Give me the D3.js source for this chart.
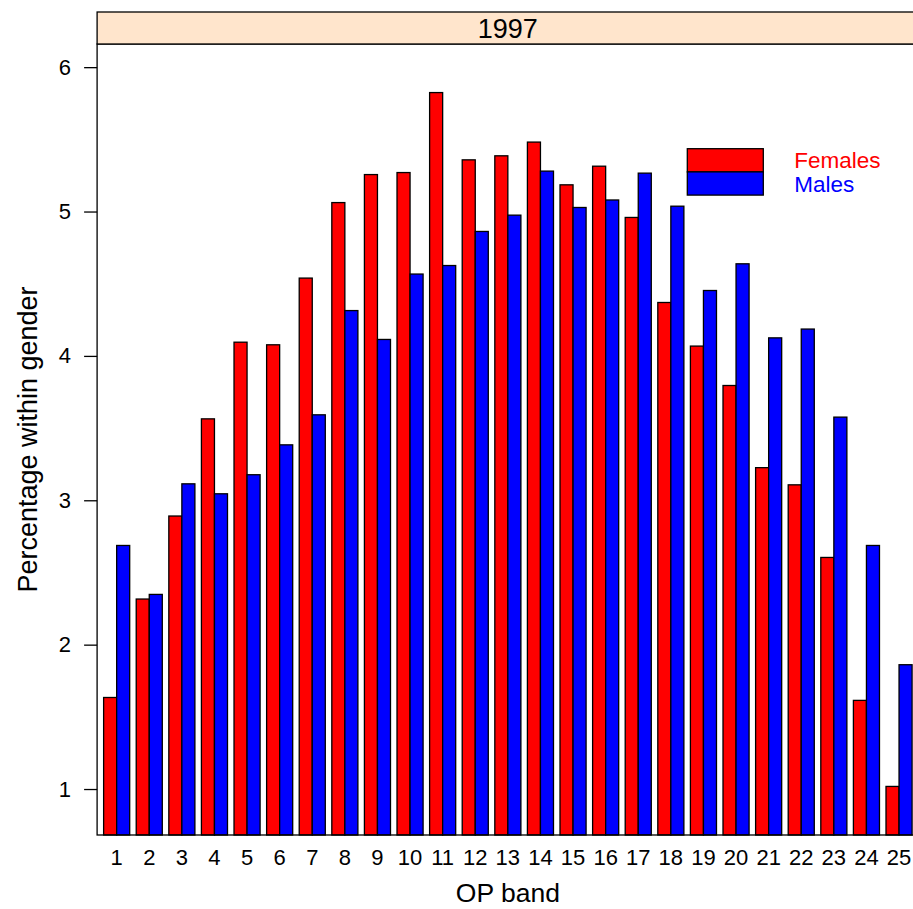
<!DOCTYPE html>
<html>
<head>
<meta charset="utf-8">
<script src="https://cdn.jsdelivr.net/npm/d3@7"></script>
<style>
  html, body { margin: 0; padding: 0; background: #fff; }
  svg { display: block; font-family: "Liberation Sans", Arial, Helvetica, sans-serif; }
</style>
</head>
<body>
<svg id="chart" width="913" height="909"></svg>
<script>
const categories = ["1","2","3","4","5","6","7","8","9","10","11","12","13","14","15","16","17","18","19","20","21","22","23","24","25"];
const females = [1.634, 2.316, 2.891, 3.564, 4.095, 4.077, 4.539, 5.062, 5.256, 5.270, 5.824, 5.358, 5.386, 5.481, 5.185, 5.314, 4.959, 4.370, 4.068, 3.795, 3.226, 3.107, 2.604, 1.614, 1.018];
const males   = [2.687, 2.348, 3.114, 3.045, 3.177, 3.384, 3.592, 4.314, 4.114, 4.567, 4.626, 4.862, 4.975, 5.280, 5.028, 5.080, 5.266, 5.037, 4.453, 4.638, 4.125, 4.186, 3.576, 2.687, 1.861];
const groups = ["Females", "Males"];
const groupColors = ["#FF0000", "#0000FF"];
const yTicks = [1, 2, 3, 4, 5, 6];
const stripLabel = "1997";
const xLabel = "OP band";
const yLabel = "Percentage within gender";

const svg = d3.select("#chart");
const panel = { left: 97.1, right: 918.6, top: 44, bottom: 835 };
const strip = { top: 12, bottom: 44 };

const all = females.concat(males);
const lo = d3.min(all), hi = d3.max(all);
const pad = (hi - lo) * 0.07;

const x = d3.scaleBand().domain(categories)
  .range([panel.left, panel.right]).paddingInner(0.2).paddingOuter(0.2);
const xSub = d3.scaleBand().domain(groups).range([0, x.bandwidth()]);
const y = d3.scaleLinear().domain([lo - pad, hi + pad]).range([panel.bottom, panel.top]);
const color = d3.scaleOrdinal().domain(groups).range(groupColors);

const data = categories.map((c, i) => ({ cat: c, values: [{ g: "Females", v: females[i] }, { g: "Males", v: males[i] }] }));

// Bars
const g = svg.append("g");
g.selectAll("g.cat").data(data).join("g")
  .attr("transform", d => `translate(${x(d.cat)},0)`)
  .selectAll("rect").data(d => d.values).join("rect")
  .attr("x", d => xSub(d.g))
  .attr("width", xSub.bandwidth())
  .attr("y", d => y(d.v))
  .attr("height", d => panel.bottom - y(d.v))
  .attr("fill", d => color(d.g))
  .attr("stroke", "#000")
  .attr("stroke-width", 1.3);

// Panel border
svg.append("rect")
  .attr("x", panel.left).attr("y", panel.top)
  .attr("width", panel.right - panel.left).attr("height", panel.bottom - panel.top)
  .attr("fill", "none").attr("stroke", "#000").attr("stroke-width", 1.3);

// Strip
svg.append("rect")
  .attr("x", panel.left).attr("y", strip.top)
  .attr("width", panel.right - panel.left).attr("height", strip.bottom - strip.top)
  .attr("fill", "#FFE5CC").attr("stroke", "#000").attr("stroke-width", 1.3);
svg.append("text")
  .attr("x", (panel.left + panel.right) / 2).attr("y", 37.5)
  .attr("text-anchor", "middle").attr("font-size", 27).attr("fill", "#000")
  .text(stripLabel);

// Y axis
const yAxis = d3.axisLeft(y).tickValues(yTicks).tickSize(13).tickPadding(13).tickFormat(d3.format("d"));
const ya = svg.append("g").attr("transform", `translate(${panel.left},0)`).call(yAxis);
ya.select(".domain").remove();
ya.selectAll(".tick line").attr("stroke", "#000").attr("stroke-width", 1.3);
ya.selectAll(".tick text").attr("font-size", 22).attr("fill", "#000")
  .attr("font-family", "Liberation Sans, Arial, sans-serif");

// X axis labels (no tick marks)
const xAxis = d3.axisBottom(x).tickSize(0).tickPadding(14);
const xa = svg.append("g").attr("transform", `translate(0,${panel.bottom})`).call(xAxis);
xa.select(".domain").remove();
xa.selectAll(".tick text").attr("font-size", 22).attr("fill", "#000")
  .attr("font-family", "Liberation Sans, Arial, sans-serif");

// Axis titles
svg.append("text")
  .attr("x", (panel.left + panel.right) / 2).attr("y", 902)
  .attr("text-anchor", "middle").attr("font-size", 26.5).attr("fill", "#000")
  .text(xLabel);
svg.append("text")
  .attr("transform", `translate(37,${(panel.top + panel.bottom) / 2}) rotate(-90)`)
  .attr("text-anchor", "middle").attr("font-size", 27).attr("fill", "#000")
  .text(yLabel);

// Legend
const legend = svg.append("g");
const lx = 687.3, ly = 148.7, lw = 76, lh = 23.2;
groups.forEach((grp, i) => {
  legend.append("rect")
    .attr("x", lx).attr("y", ly + i * lh)
    .attr("width", lw).attr("height", lh)
    .attr("fill", color(grp)).attr("stroke", "#000").attr("stroke-width", 1.3);
  legend.append("text")
    .attr("x", 794.3).attr("y", ly + i * lh + lh / 2 + 8)
    .attr("font-size", 22.5).attr("fill", color(grp))
    .text(grp);
});
</script>
</body>
</html>
